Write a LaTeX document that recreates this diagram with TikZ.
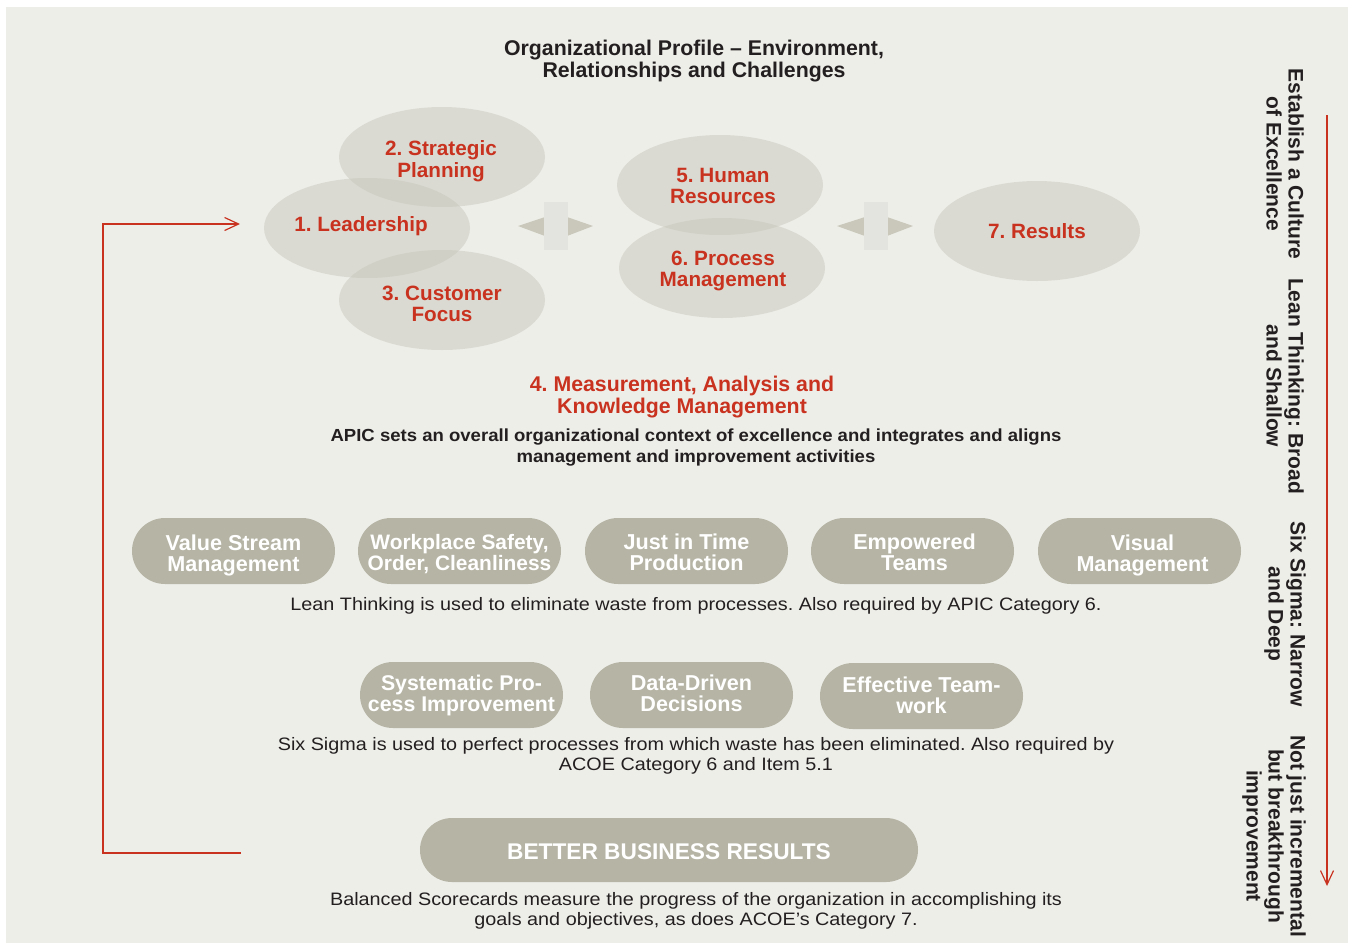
\documentclass[tikz,border=0pt]{standalone}
\usepackage{fontspec}
\setmainfont{Liberation Sans}
\newfontfamily\widesans[FakeStretch=1.1]{Liberation Sans}
\newfontfamily\widebold[FakeStretch=1.06]{Liberation Sans Bold}
\usetikzlibrary{shapes.geometric,arrows.meta,calc}
\definecolor{paper}{HTML}{EEEEE9}
\definecolor{ovalfill}{HTML}{C8C7BC}
\definecolor{pillfill}{HTML}{B6B5A5}
\definecolor{accent}{HTML}{C8321F}
\definecolor{ink}{HTML}{231F20}
\definecolor{trifill}{HTML}{C9C8BB}
\definecolor{barfill}{HTML}{E3E3DF}
\frenchspacing
\begin{document}
\begin{tikzpicture}[x=1pt,y=-1pt,
  oval/.style={ellipse, minimum width=206pt, minimum height=100pt, inner sep=0pt,
    fill=ovalfill, fill opacity=0.5},
  ovaltext/.style={text=accent, align=center, inner sep=0pt,
    font=\bfseries\fontsize{20.7}{21.5}\selectfont},
  pill/.style={rectangle, rounded corners=33pt, minimum width=203pt, minimum height=66pt,
    inner sep=0pt, fill=pillfill},
  pilltext/.style={text=white, align=center, inner sep=0pt,
    font=\bfseries\fontsize{21.6}{21}\selectfont},
  heading/.style={text=ink, align=center, font=\bfseries\fontsize{21.3}{22}\selectfont},
  subhead/.style={text=ink, align=center, font=\widebold\fontsize{17.5}{21}\selectfont},
  caption/.style={text=ink, align=center, font=\widesans\fontsize{18}{19.5}\selectfont},
  sidetext/.style={text=ink, align=center, rotate=-90, font=\bfseries\fontsize{21}{22}\selectfont},
  redline/.style={draw=accent, line width=1.4pt},
  openhead/.style={-{Straight Barb[length=14pt,width=13pt,line width=1.2pt]}},
  tribar/.style={fill=trifill},
  midbar/.style={fill=barfill}
]
\useasboundingbox (0,0) rectangle (1348,943);
\fill[white] (0,0) rectangle (1348,943);
\fill[paper] (6,7) rectangle (1348,943);

% title
\node[heading] (title) at (694,61) {Organizational Profile -- Environment,\\Relationships and Challenges};

% category ovals
\node[oval] (strat) at (442,157) {};
\node[oval] (lead)  at (367,228) {};
\node[oval] (cust)  at (442,300) {};
\node[oval] (hr)    at (720,185) {};
\node[oval] (proc)  at (722,268) {};
\node[oval] (res)   at (1037,231) {};
\node[ovaltext] (strat-t) at ($(strat)+(-1,4)$) {2. Strategic\\Planning};
\node[ovaltext] (lead-t)  at ($(lead)+(-6,-2)$) {1. Leadership};
\node[ovaltext] (cust-t)  at ($(cust)+(0,4)$) {3. Customer\\Focus};
\node[ovaltext] (hr-t)    at ($(hr)+(3,1)$) {5. Human\\Resources};
\node[ovaltext] (proc-t)  at ($(proc)+(1,3)$) {6. Process\\Management};
\node[ovaltext] (res-t)   at ($(res)+(0,0)$) {7. Results};

% two-way markers between the oval groups
\fill[tribar] (518,226) -- (545,217) -- (545,236) -- cycle;
\fill[tribar] (593,226) -- (567,217) -- (567,236) -- cycle;
\fill[midbar] (544,202) rectangle (568,250);
\fill[tribar] (837,226) -- (865,217) -- (865,236) -- cycle;
\fill[tribar] (913,226) -- (887,217) -- (887,236) -- cycle;
\fill[midbar] (864,202) rectangle (888,250);

% measurement block
\node[heading, text=accent] (meas) at (682,397) {4. Measurement, Analysis and\\Knowledge Management};
\node[subhead] (apic) at (696,448) {APIC sets an overall organizational context of excellence and integrates and aligns\\management and improvement activities};

% lean thinking tools
\node[pill] (vsm) at (233.5,551) {};
\node[pill] (wso) at (459.5,551) {};
\node[pill] (jit) at (686.5,551) {};
\node[pill] (emp) at (912.5,551) {};
\node[pill] (vis) at (1139.5,551) {};
\node[pilltext] (vsm-t) at ($(vsm)+(0,4)$) {Value Stream\\Management};
\node[pilltext, font=\bfseries\fontsize{20.9}{21}\selectfont] (wso-t) at ($(wso)+(0,3)$) {Workplace Safety,\\Order, Cleanliness};
\node[pilltext] (jit-t) at ($(jit)+(0,1)$) {Just in Time\\Production};
\node[pilltext] (emp-t) at ($(emp)+(2,1)$) {Empowered\\Teams};
\node[pilltext] (vis-t) at ($(vis)+(3,4)$) {Visual\\Management};
\node[caption] (leancap) at (696,606) {Lean Thinking is used to eliminate waste from processes. Also required by APIC Category 6.};

% six sigma tools
\node[pill] (spi) at (461.5,695) {};
\node[pill] (ddd) at (691.5,695) {};
\node[pill] (etw) at (921.5,696) {};
\node[pilltext, font=\bfseries\fontsize{21.3}{21}\selectfont] (spi-t) at ($(spi)+(0,0)$) {Systematic Pro-\\cess Improvement};
\node[pilltext] (ddd-t) at ($(ddd)+(0,-2)$) {Data-Driven\\Decisions};
\node[pilltext] (etw-t) at ($(etw)+(0,-1)$) {Effective Team-\\work};
\node[caption] (sixcap) at (696,756) {Six Sigma is used to perfect processes from which waste has been eliminated. Also required by\\ACOE Category 6 and Item 5.1};

% outcome
\node[pill, minimum width=498pt, minimum height=64pt, rounded corners=32pt] (bbr) at (669,850) {};
\node[pilltext, font=\bfseries\fontsize{22.7}{22}\selectfont] (bbr-t) at ($(bbr)+(0,2)$) {BETTER BUSINESS RESULTS};
\node[caption] (bsccap) at (696,911) {Balanced Scorecards measure the progress of the organization in accomplishing its\\goals and objectives, as does ACOE’s Category 7.};

% feedback loop back to leadership
\coordinate (loopstart) at (241,853);
\coordinate (loopcorner) at (103,853);
\coordinate (looptip) at (240,224);
\draw[redline, openhead] (loopstart) -- (loopcorner) |- (looptip);

% side scale
\coordinate (scaletop) at (1327,115);
\coordinate (scalebot) at (1327,886);
\draw[redline, openhead] (scaletop) -- (scalebot);
\node[sidetext] (s1) at (1285,164) {Establish a Culture\\of Excellence};
\node[sidetext] (s2) at (1285,386) {Lean Thinking: Broad\\and Shallow};
\node[sidetext] (s3) at (1285,614) {Six Sigma: Narrow\\and Deep};
\node[sidetext] (s4) at (1274,836) {Not just incremental\\but breakthrough\\improvement};
\end{tikzpicture}
\end{document}
